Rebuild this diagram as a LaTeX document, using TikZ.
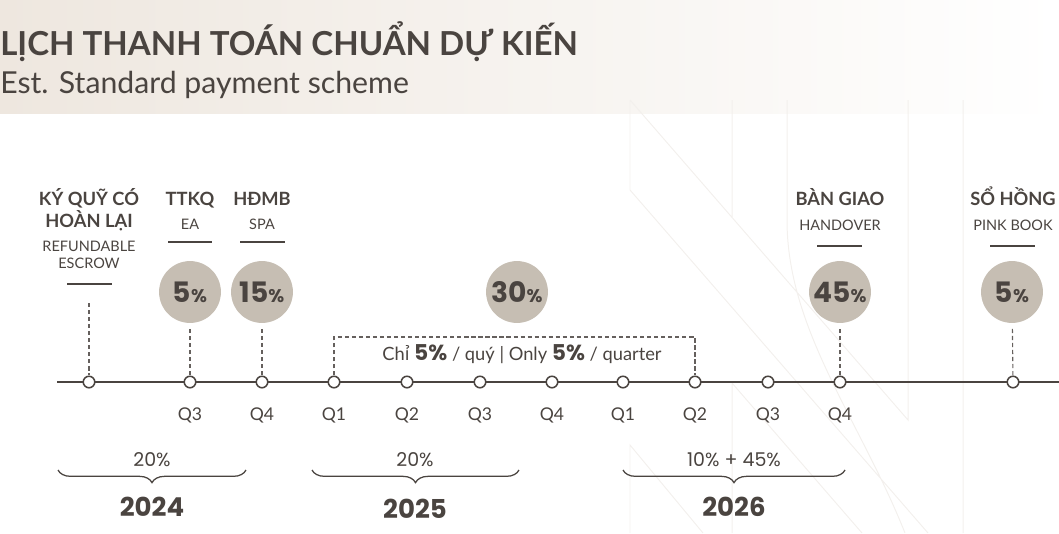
\documentclass[tikz,border=0pt]{standalone}
\usepackage{fontspec}
\setmainfont{Lato}
\newfontfamily\numfont{Poppins}
\newfontfamily\vnfont{Noto Sans}
\usetikzlibrary{positioning,calc,decorations.pathreplacing}
\definecolor{ink}{RGB}{74,68,64}
\definecolor{taupe}{RGB}{198,190,179}
\definecolor{band}{RGB}{238,231,223}
\definecolor{logoline}{RGB}{243,240,237}
\newcommand{\pc}{{\fontsize{13}{13}\selectfont\%}}
\newcommand{\fivepc}{{\numfont\fontsize{15.5}{15}\selectfont\bfseries 5\%}}
\tikzset{tick/.style={circle,draw=ink,fill=white,line width=1.1pt,inner sep=0pt,minimum size=8.2pt},
 pctdisc/.style={circle,fill=taupe,inner sep=0pt,minimum size=44pt,text=ink,
  font=\numfont\fontsize{20}{20}\selectfont\bfseries},
 head/.style={anchor=base,inner sep=0pt,text=ink,font=\fontsize{13}{13}\selectfont\bfseries},
 sub/.style={anchor=base,inner sep=0pt,text=ink,font=\fontsize{10.3}{10}\selectfont},
 qlab/.style={anchor=base,inner sep=0pt,text=ink,font=\fontsize{12.5}{12}\selectfont},
 rule/.style={ink,line width=0.8pt},
 lead/.style={ink!85,line width=0.8pt,dash pattern=on 3pt off 2pt},
 yearbrace/.style={ink,line width=0.9pt,decorate,decoration={brace,mirror,amplitude=9pt}},
 share/.style={anchor=base,inner sep=0pt,text=ink,font=\numfont\fontsize{13.5}{12}\selectfont},
 year/.style={anchor=base,inner sep=0pt,text=ink,font=\numfont\fontsize{18.5}{19}\selectfont\bfseries},
 logo/.style={logoline,line width=0.7pt}}

\begin{document}
\begin{tikzpicture}[x=0.025cm,y=-0.025cm]
\useasboundingbox (0,0) rectangle (1059,533);
% header band
\shade[left color=band,right color=white] (0,0) rectangle (1059,113);
% faint logo in the back
\draw[logo] (630,100)--(630,190) (630,100)--(908,420)--(908,100) (732,100)--(732,217)
 (630,190)--(928,533) (787,100)--(787,220) .. controls (787,330) and (860,420) .. (905,533)
 (963,100)--(963,533) (630,533)--(630,445)--(703,533) (732,533)--(732,383)--(862,533);
\node[anchor=base west,inner sep=0pt,text=ink,font=\fontsize{23.5}{24}\selectfont\bfseries] (title) at (0,55) {LỊCH THANH TOÁN CHUẨN DỰ KIẾN};
\node[anchor=base west,inner sep=0pt,text=ink,font=\fontsize{21.5}{22}\selectfont] (subtitle) at (0,93) {Est. Standard payment scheme};

% timeline
\coordinate (ls) at (57,382);
\coordinate (le) at (1059,382);
\draw[ink,line width=1pt] (ls) -- (le);
\foreach \n/\x in {1/89,2/190,3/262,4/334,5/407,6/480,7/552,8/623,9/695,10/768,11/840,12/1013}
 \node[tick] (t\n) at (\x,382) {};
\foreach \n/\q in {2/Q3,3/Q4,4/Q1,5/Q2,6/Q3,7/Q4,8/Q1,9/Q2,10/Q3,11/Q4}
 \node[qlab] (q\n) at ($(t\n)+(0,38)$) {\q};

% milestones
\node[head] (escrowhead) at (89,205) {KÝ QUỸ CÓ};
\node[head] (escrowhead2) at (89,227) {HOÀN LẠI};
\node[sub] (escrowsub) at (89,251) {REFUNDABLE};
\node[sub] (escrowsub2) at (89,268) {ESCROW};
\draw[rule] (67,284) -- (112,284);
\coordinate (escrowend) at (89,303);
\draw[lead] (escrowend) -- (t1);

\node[head] (eahead) at (190,205) {TTKQ};
\node[sub] (easub) at (190,229) {EA};
\draw[rule] (168,242) -- (212,242);
\node[pctdisc] (p1) at (190,292) {5\pc};
\draw[lead,shorten <=4pt] (p1) -- (t2);

\node[head] (spahead) at (262,205) {HĐMB};
\node[sub] (spasub) at (262,229) {SPA};
\draw[rule] (240,242) -- (285,242);
\node[pctdisc] (p2) at (262,292) {15\pc};
\draw[lead,shorten <=4pt] (p2) -- (t3);

\node[pctdisc] (p3) at (517,292) {30\pc};
\coordinate (boxtop) at (514,337);
\draw[lead] (t4.north) |- (boxtop) -| (t9.north);
\node[anchor=base,inner sep=0pt,text=ink,font=\fontsize{13}{12}\selectfont] (quarter) at (522,360)
 {Ch{\vnfont ỉ} \fivepc{} / quý | Only \fivepc{} / quarter};

\node[head] (hohead) at (840,205) {BÀN GIAO};
\node[sub] (hosub) at (840,230) {HANDOVER};
\draw[rule] (817,246) -- (862,246);
\node[pctdisc] (p4) at (840,292) {45\pc};
\draw[lead,shorten <=4pt] (p4) -- (t11);

\node[head] (pbhead) at (1013,205) {SỔ HỒNG};
\node[sub] (pbsub) at (1013,230) {PINK BOOK};
\draw[rule] (990,246) -- (1035,246);
\node[pctdisc] (p5) at (1012,292) {5\pc};
\draw[lead,shorten <=4pt] (p5) -- (t12);

% years
\coordinate (y1a) at (58,470); \coordinate (y1b) at (246,470);
\coordinate (y2a) at (312,470); \coordinate (y2b) at (519,470);
\coordinate (y3a) at (623,470); \coordinate (y3b) at (845,470);
\draw[yearbrace] (y1a) -- (y1b);
\draw[yearbrace] (y2a) -- (y2b);
\draw[yearbrace] (y3a) -- (y3b);
\node[share] (s1) at (152,466) {20\%};
\node[share] (s2) at (415,466) {20\%};
\node[share] (s3) at (734,466) {10\% + 45\%};
\node[year] (yr1) at (152,516) {2024};
\node[year] (yr2) at (415,518) {2025};
\node[year] (yr3) at (734,516) {2026};
\end{tikzpicture}
\end{document}
